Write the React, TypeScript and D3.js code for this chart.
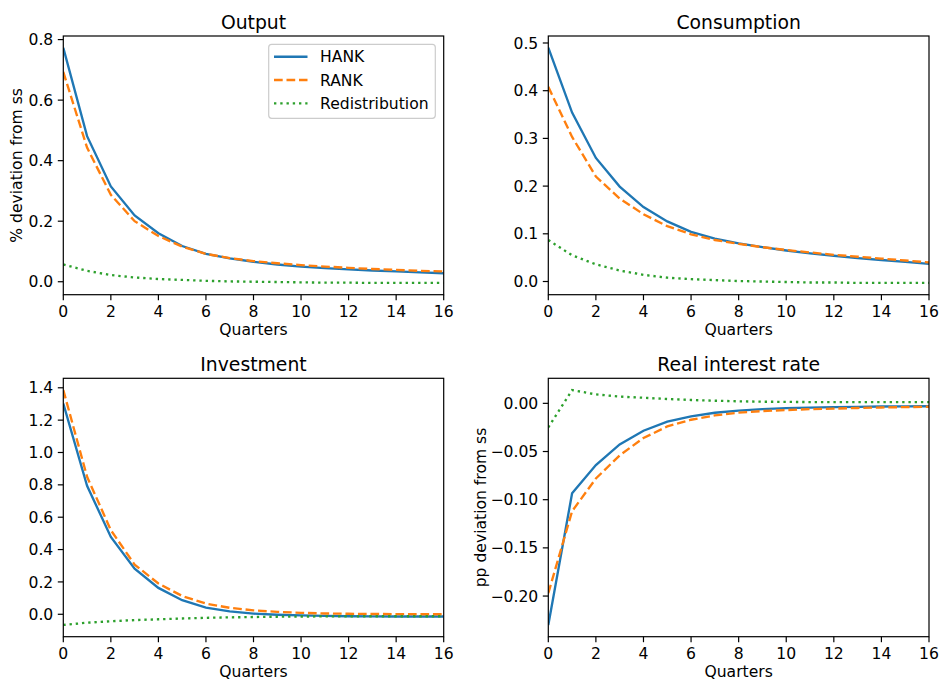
import React from 'react';
import * as d3 from 'd3';

// quarters after the shock
const quarters = [0, 1, 2, 3, 4, 5, 6, 7, 8, 9, 10, 11, 12, 13, 14, 15, 16];

const outputHank = [0.773, 0.481, 0.315, 0.219, 0.160, 0.118, 0.092, 0.077, 0.066, 0.057, 0.050, 0.045, 0.041, 0.037, 0.034, 0.031, 0.028];
const outputRank = [0.693, 0.443, 0.287, 0.200, 0.151, 0.116, 0.092, 0.078, 0.068, 0.061, 0.055, 0.050, 0.046, 0.042, 0.039, 0.036, 0.034];
const outputRedist = [0.057, 0.036, 0.022, 0.014, 0.009, 0.006, 0.003, 0.001, 0.000, -0.001, -0.002, -0.003, -0.003, -0.004, -0.004, -0.004, -0.004];

const consHank = [0.490, 0.354, 0.259, 0.199, 0.156, 0.126, 0.104, 0.090, 0.080, 0.072, 0.065, 0.059, 0.054, 0.049, 0.045, 0.041, 0.037];
const consRank = [0.408, 0.303, 0.220, 0.174, 0.141, 0.116, 0.099, 0.087, 0.079, 0.072, 0.066, 0.061, 0.056, 0.052, 0.048, 0.044, 0.040];
const consRedist = [0.087, 0.055, 0.036, 0.023, 0.014, 0.008, 0.005, 0.003, 0.001, 0.000, -0.001, -0.002, -0.002, -0.003, -0.003, -0.003, -0.003];

const invHank = [1.303, 0.794, 0.478, 0.282, 0.163, 0.087, 0.041, 0.018, 0.004, -0.003, -0.007, -0.010, -0.012, -0.013, -0.014, -0.014, -0.014];
const invRank = [1.386, 0.850, 0.520, 0.307, 0.190, 0.113, 0.066, 0.040, 0.024, 0.015, 0.009, 0.005, 0.003, 0.002, 0.001, 0.000, 0.000];
const invRedist = [-0.066, -0.052, -0.043, -0.036, -0.031, -0.026, -0.022, -0.019, -0.017, -0.015, -0.014, -0.013, -0.013, -0.012, -0.012, -0.012, -0.012];

const rateHank = [-0.230, -0.0934, -0.064, -0.0426, -0.0284, -0.019, -0.0135, -0.0098, -0.0075, -0.006, -0.005, -0.0045, -0.004, -0.0036, -0.0033, -0.0031, -0.003];
const rateRank = [-0.197, -0.112, -0.078, -0.054, -0.036, -0.024, -0.017, -0.0125, -0.0097, -0.008, -0.007, -0.006, -0.0055, -0.0048, -0.0043, -0.0039, -0.0035];
const rateRedist = [-0.025, 0.0138, 0.0093, 0.007, 0.0058, 0.0045, 0.0035, 0.0027, 0.0021, 0.0017, 0.0015, 0.0013, 0.0012, 0.0012, 0.0012, 0.0012, 0.0012];

const xTicks = [0, 2, 4, 6, 8, 10, 12, 14, 16];
const outputTicks = [0, 0.2, 0.4, 0.6, 0.8];
const consTicks = [0, 0.1, 0.2, 0.3, 0.4, 0.5];
const invTicks = [0, 0.2, 0.4, 0.6, 0.8, 1.0, 1.2, 1.4];
const rateTicks = [-0.2, -0.15, -0.1, -0.05, 0];

const seriesNames = ['HANK', 'RANK', 'Redistribution'];

const FONT = 'DejaVu Sans, sans-serif';
const W = 939;
const H = 679;
const FS = 15.6;   // tick / label size
const TFS = 18.8;  // title size
const LW = 2.35;

const styles = [
  { color: '#1f77b4', dash: null },
  { color: '#ff7f0e', dash: '8.7,3.8' },
  { color: '#2ca02c', dash: '2.35,3.9' },
];

type Box = { x0: number; x1: number; y0: number; y1: number };

function fmt(v: number, digits: number) {
  return d3.format(`.${digits}f`)(v).replace('-', '\u2212');
}

function Panel({ id, box, title, ylabel, series, yTicks, digits, legend }: {
  id: string; box: Box; title: string; ylabel?: string; series: number[][];
  yTicks: number[]; digits: number; legend?: boolean;
}) {
  const all = series.flat();
  const lo = d3.min(all)!;
  const hi = d3.max(all)!;
  const pad = (hi - lo) * 0.05;
  const x = d3.scaleLinear().domain([0, 16]).range([box.x0, box.x1]);
  const y = d3.scaleLinear().domain([lo - pad, hi + pad]).range([box.y1, box.y0]);
  const line = d3.line<number>().x((_, i) => x(quarters[i])).y(d => y(d));
  const midY = (box.y0 + box.y1) / 2;

  return (
    <g>
      <clipPath id={id}>
        <rect x={box.x0} y={box.y0} width={box.x1 - box.x0} height={box.y1 - box.y0} />
      </clipPath>
      <g clipPath={`url(#${id})`}>
        {series.map((s, k) => (
          <path key={k} d={line(s) ?? ''} fill="none" stroke={styles[k].color}
            strokeWidth={LW} strokeDasharray={styles[k].dash ?? undefined} />
        ))}
      </g>
      <rect x={box.x0} y={box.y0} width={box.x1 - box.x0} height={box.y1 - box.y0}
        fill="none" stroke="#000" strokeWidth={1.2} />
      {xTicks.map(t => (
        <g key={t}>
          <line x1={x(t)} x2={x(t)} y1={box.y1} y2={box.y1 + 5.5} stroke="#000" strokeWidth={1.2} />
          <text x={x(t)} y={box.y1 + 22} textAnchor="middle" fontSize={FS} fontFamily={FONT}>{t}</text>
        </g>
      ))}
      {yTicks.map(t => (
        <g key={t}>
          <line x1={box.x0 - 5.5} x2={box.x0} y1={y(t)} y2={y(t)} stroke="#000" strokeWidth={1.2} />
          <text x={box.x0 - 10} y={y(t)} dy="0.36em" textAnchor="end" fontSize={FS} fontFamily={FONT}>{fmt(t, digits)}</text>
        </g>
      ))}
      <text x={(box.x0 + box.x1) / 2} y={box.y0 - 7} textAnchor="middle" fontSize={TFS} fontFamily={FONT}>{title}</text>
      <text x={(box.x0 + box.x1) / 2} y={box.y1 + 40.5} textAnchor="middle" fontSize={FS} fontFamily={FONT}>Quarters</text>
      {ylabel && (
        <text transform={`translate(${box.x0 - (digits === 2 ? 62 : 41)},${midY}) rotate(-90)`}
          textAnchor="middle" fontSize={FS} fontFamily={FONT}>{ylabel}</text>
      )}
      {legend && (
        <g>
          <rect x={268.7} y={44.3} width={166.6} height={74} rx={3} fill="#fff" fillOpacity={0.8}
            stroke="#cccccc" strokeWidth={1.2} />
          {seriesNames.map((name, k) => (
            <g key={name} transform={`translate(0,${56.7 + k * 23.3})`}>
              <line x1={274} x2={307.5} y1={0} y2={0} stroke={styles[k].color} strokeWidth={LW}
                strokeDasharray={styles[k].dash ?? undefined} />
              <text x={320} y={0} dy="0.36em" fontSize={FS} fontFamily={FONT}>{name}</text>
            </g>
          ))}
        </g>
      )}
    </g>
  );
}

export default function App() {
  const left = { x0: 63.3, x1: 443.7 };
  const right = { x0: 548.3, x1: 929 };
  const top = { y0: 36, y1: 294.7 };
  const bottom = { y0: 378.3, y1: 636.7 };
  return (
    <svg width={W} height={H} style={{ position: 'absolute', left: 0, top: 0, background: '#fff' }}>
      <rect width={W} height={H} fill="#fff" />
      <Panel id="c1" box={{ ...left, ...top }} title="Output" ylabel="% deviation from ss"
        series={[outputHank, outputRank, outputRedist]} yTicks={outputTicks} digits={1} legend />
      <Panel id="c2" box={{ ...right, ...top }} title="Consumption"
        series={[consHank, consRank, consRedist]} yTicks={consTicks} digits={1} />
      <Panel id="c3" box={{ ...left, ...bottom }} title="Investment"
        series={[invHank, invRank, invRedist]} yTicks={invTicks} digits={1} />
      <Panel id="c4" box={{ ...right, ...bottom }} title="Real interest rate" ylabel="pp deviation from ss"
        series={[rateHank, rateRank, rateRedist]} yTicks={rateTicks} digits={2} />
    </svg>
  );
}
